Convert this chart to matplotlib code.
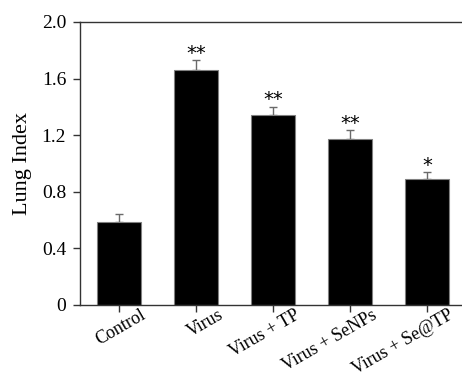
import matplotlib
matplotlib.use("Agg")
import matplotlib.pyplot as plt
import matplotlib.transforms as mtransforms
import numpy as np

groups = ["Control", "Virus", "Virus + TP", "Virus + SeNPs", "Virus + Se@TP"]
lung_index = [0.59, 1.66, 1.34, 1.17, 0.89]
errors = [0.05, 0.07, 0.06, 0.065, 0.05]
stars = ["", "**", "**", "**", "*"]

plt.rcParams['font.family'] = ['Liberation Serif', 'DejaVu Serif']

fig = plt.figure(figsize=(4.62, 3.81), dpi=100)
ax = fig.add_axes([0.1732, 0.1995, 0.8268, 0.7428])

x = np.arange(len(groups))
ax.bar(x, lung_index, width=0.56, color='black', edgecolor='#808080', linewidth=0.8, zorder=2)
ax.errorbar(x, lung_index, yerr=[np.zeros(len(errors)), errors], fmt='none',
            ecolor='#6a6a6a', elinewidth=1, capsize=3, capthick=1, zorder=1)

for xi, v, e, s in zip(x, lung_index, errors, stars):
    if s:
        ax.annotate(s, (xi, v + e), xytext=(0, 1), textcoords='offset points',
                    ha='center', va='baseline', fontsize=14, family='DejaVu Sans')

ax.set_xlim(-0.506, 4.455)
ax.set_ylim(0, 2.0)
ax.set_yticks([0, 0.4, 0.8, 1.2, 1.6, 2.0])
ax.set_yticklabels(["0", "0.4", "0.8", "1.2", "1.6", "2.0"], fontsize=14)
ax.set_xticks(x)
ax.set_xticklabels([])

# rotated group labels, right end of baseline sits right of the tick
offset = mtransforms.ScaledTranslation(28 / 100, -13 / 100, fig.dpi_scale_trans)
for xi, g in zip(x, groups):
    ax.text(xi, 0, g, transform=ax.get_xaxis_transform() + offset, fontsize=13,
            rotation=30, ha='right', va='baseline', rotation_mode='anchor')

ax.set_ylabel("Lung Index", fontsize=16, labelpad=7)
ax.tick_params(direction='out', length=5, width=1, color='#333333')
ax.tick_params(axis='y', pad=5)

for side in ['left', 'bottom', 'top']:
    ax.spines[side].set_color('#333333')
    ax.spines[side].set_linewidth(1)
ax.spines['right'].set_visible(False)

fig.savefig("out.png", dpi=100)
